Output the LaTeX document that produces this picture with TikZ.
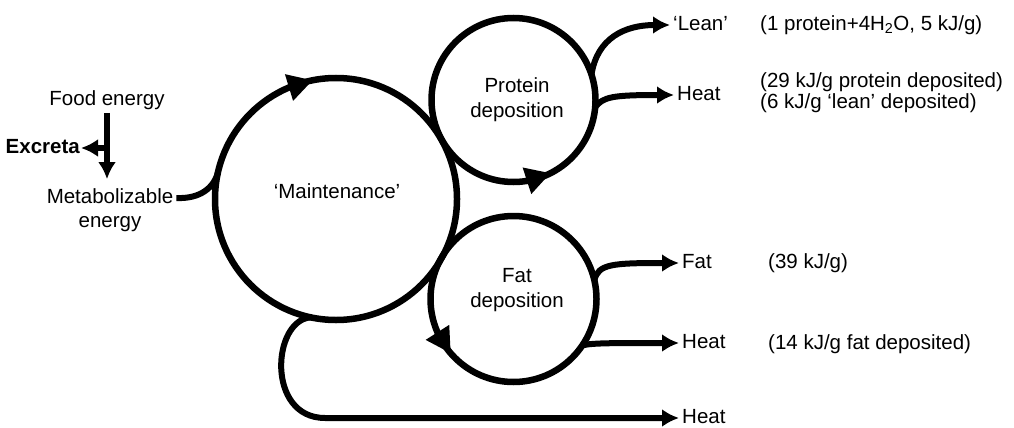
\documentclass[tikz,border=0pt]{standalone}
\usepackage{fontspec}
\setmainfont{Liberation Sans}
\usetikzlibrary{arrows.meta}
\begin{document}
\begin{tikzpicture}[x=1pt,y=-1pt,
  every node/.style={font=\fontsize{20.5}{24}\selectfont, text height=15pt, text depth=4.5pt, inner sep=3pt},
  ring/.style={draw, circle, line width=6.5pt, outer sep=0pt, inner sep=0pt, text height={}, text depth={}},
  twoline/.style={align=center, text height={}, text depth={}, font=\fontsize{20.5}{25}\selectfont},
  lbl/.style={anchor=west},
  flow/.style={line width=6pt, -{Latex[length=17pt,width=18pt]}},
  link/.style={line width=6pt},
  mid/.style={line width=6.5pt, -{Triangle[length=25pt,width=26pt]}}]
\useasboundingbox (0,0) rectangle (1014,428);

% rings
\node[ring, minimum size=242pt] (maint) at (336,199) {};
\node[ring, minimum size=164pt] (prot) at (513.5,100) {};
\node[ring, minimum size=166pt] (fat) at (513.5,299) {};

% texts in rings
\node (mtext) at (337,193) {‘Maintenance’};
\node[twoline] (ptext) at (517,100) {Protein\\deposition};
\node[twoline] (ftext) at (517,290) {Fat\\deposition};

% left texts
\node (food) at (107,100) {Food energy};
\node[anchor=east, inner sep=1pt, font=\fontsize{20.5}{24}\selectfont\bfseries] (excreta) at (81,148) {Excreta};
\node (met1) at (110,198) {Metabolizable};
\node (met2) at (110,222) {energy};

% right labels
\node[lbl] (lean) at (670,25) {‘Lean’};
\node[lbl] (heat1) at (674,95) {Heat};
\node[lbl] (fatl) at (679,263) {Fat};
\node[lbl] (heat2) at (679,343) {Heat};
\node[lbl] (heat3) at (679,418) {Heat};

% annotations
\node[lbl] (ann1) at (757,25) {(1 protein+4H\textsubscript{2}O, 5 kJ/g)};
\node[lbl, align=left, text height={}, text depth={}, font=\fontsize{20.5}{21.5}\selectfont] (ann2) at (757,92.5) {(29 kJ/g protein deposited)\\(6 kJ/g ‘lean’ deposited)};
\node[lbl] (ann3) at (765,263) {(39 kJ/g)};
\node[lbl] (ann4) at (765,344) {(14 kJ/g fat deposited)};

% food -> metabolizable, excreta
\coordinate (metTop) at ([yshift=6pt]met1.north);
\draw[flow] (food.south) -- (food.south |- metTop);
\coordinate (split) at (food.south |- excreta.east);
\draw[flow] (split) -- (excreta.east);

% metabolizable -> maintenance
\draw[link] (met1.east) .. controls (200,199) and (214,188) .. (maint.167);

% maintenance -> heat (loop)
\draw[flow] (maint.258) .. controls (272,320) and (266,418) .. (325,418) -- (heat3.west);

% protein outputs
\draw[flow] (prot.18) .. controls (597,38) and (625,25) .. (lean.west);
\draw[flow] (prot.-5) .. controls (603,97) and (612,95) .. (heat1.west);

% fat outputs
\draw[flow] (fat.13) .. controls (598,264) and (612,263) .. (fatl.west);
\draw[flow] (fat.-34) .. controls (592,343) and (610,343) .. (heat2.west);

% direction arrows on rings
\draw[mid] (maint.113) -- (maint.101);
\draw[mid] (prot.-81) -- (prot.-63);
\draw[mid] (fat.204) -- (fat.221);
\end{tikzpicture}
\end{document}
